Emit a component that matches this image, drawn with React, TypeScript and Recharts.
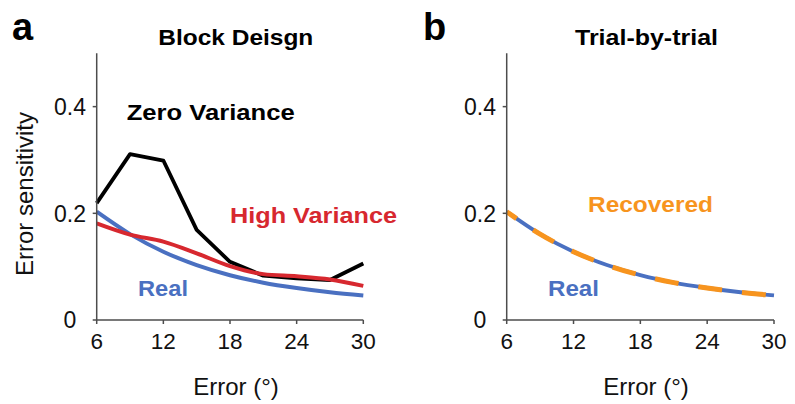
import React from "react";
import { LineChart, Line, XAxis, YAxis } from "recharts";

// Error magnitude (degrees) at which sensitivity was evaluated
const errors = [6, 9, 12, 15, 18, 21, 24, 27, 30];

// Block design: sensitivity per environment
const zeroVariance = [0.219, 0.311, 0.299, 0.169, 0.109, 0.083, 0.078, 0.075, 0.106];
const highVariance = [0.181, 0.16, 0.147, 0.125, 0.101, 0.086, 0.082, 0.076, 0.064];
const realSensitivity = [0.203, 0.161, 0.128, 0.103, 0.084, 0.07, 0.06, 0.052, 0.046];

// Trial-by-trial: true vs recovered sensitivity
const recoveredSensitivity = [0.203, 0.161, 0.128, 0.103, 0.084, 0.07, 0.06, 0.052, 0.046];

const xTicks = [6, 12, 18, 24, 30];
const yTicks = [0, 0.2, 0.4];

const FONT = "'Liberation Sans', Arial, Helvetica, sans-serif";
const AXIS = "#4d4d4d";
const BLACK = "#000000";
const RED = "#d7282f";
const BLUE = "#4a70c1";
const ORANGE = "#f7941e";

const blockData = errors.map((e, i) => ({
  error: e,
  zero: zeroVariance[i],
  high: highVariance[i],
  real: realSensitivity[i],
}));

const trialData = errors.map((e, i) => ({
  error: e,
  real: realSensitivity[i],
  recovered: recoveredSensitivity[i],
}));

const fmtY = (v: number) => (v === 0 ? "0" : v.toFixed(1));

const XTick = (props: any) => {
  const { x, y, payload } = props;
  return (
    <text x={x} y={y + 23} textAnchor="middle" fontFamily={FONT} fontSize={22.5} fill="#111">
      {payload.value}
    </text>
  );
};

const YTick = (props: any) => {
  const { x, y, payload } = props;
  return (
    <text
      x={x - 20.7}
      y={y}
      dy="0.36em"
      textAnchor="middle"
      fontFamily={FONT}
      fontSize={23}
      fill="#111"
    >
      {fmtY(payload.value)}
    </text>
  );
};

const axisCommon = {
  stroke: AXIS,
  strokeWidth: 1.5,
};

function Panel({
  left,
  yWidth,
  right,
  data,
  children,
}: {
  left: number;
  yWidth: number;
  right: number;
  data: any[];
  children: React.ReactNode;
}) {
  return (
    <div style={{ position: "absolute", left, top: 0 }}>
      <LineChart
        width={400}
        height={404}
        data={data}
        margin={{ top: 53.3, right, bottom: 0, left: 0 }}
      >
        <XAxis
          dataKey="error"
          type="number"
          domain={[6, 30]}
          ticks={xTicks}
          height={84}
          tickSize={4}
          tickMargin={2}
          axisLine={axisCommon}
          tickLine={axisCommon}
          tick={<XTick />}
          interval={0}
        />
        <YAxis
          type="number"
          domain={[0, 0.5]}
          ticks={yTicks}
          width={yWidth}
          tickSize={4}
          tickMargin={2}
          axisLine={axisCommon}
          tickLine={axisCommon}
          tick={<YTick />}
          interval={0}
        />
        {children}
      </LineChart>
    </div>
  );
}

export default function App() {
  return (
    <div
      style={{
        position: "absolute",
        left: 0,
        top: 0,
        width: 795,
        height: 404,
        background: "#fff",
        overflow: "hidden",
      }}
    >
      <Panel left={0} yWidth={96.7} right={36.7} data={blockData}>
        <Line
          dataKey="zero"
          type="linear"
          stroke={BLACK}
          strokeWidth={3.8}
          dot={false}
          strokeLinejoin="round"
          isAnimationActive={false}
        />
        <Line
          dataKey="real"
          type="monotone"
          stroke={BLUE}
          strokeWidth={4}
          dot={false}
          isAnimationActive={false}
        />
        <Line
          dataKey="high"
          type="monotone"
          stroke={RED}
          strokeWidth={4}
          dot={false}
          isAnimationActive={false}
        />
      </Panel>

      <Panel left={400} yWidth={106.7} right={26} data={trialData}>
        <Line
          dataKey="real"
          type="monotone"
          stroke={BLUE}
          strokeWidth={3.8}
          dot={false}
          isAnimationActive={false}
        />
        <Line
          dataKey="recovered"
          type="monotone"
          stroke={ORANGE}
          strokeWidth={5}
          strokeDasharray="24 20"
          strokeDashoffset={12}
          dot={false}
          isAnimationActive={false}
        />
      </Panel>

      <svg
        width={795}
        height={404}
        style={{ position: "absolute", left: 0, top: 0, pointerEvents: "none" }}
        fontFamily={FONT}
      >
        {/* panel letters */}
        <text x={12} y={40} fontSize={38} fontWeight="bold" fill="#000">a</text>
        <text x={423} y={40} fontSize={38} fontWeight="bold" fill="#000">b</text>

        {/* titles */}
        <text x={158.3} y={45} fontSize={21.5} fontWeight="bold" fill="#000" textLength={155} lengthAdjust="spacingAndGlyphs">
          Block Deisgn
        </text>
        <text x={575} y={45} fontSize={21.5} fontWeight="bold" fill="#000" textLength={143} lengthAdjust="spacingAndGlyphs">
          Trial-by-trial
        </text>

        {/* series annotations, panel a */}
        <text x={126.7} y={120} fontSize={22.5} fontWeight="bold" fill={BLACK} textLength={168} lengthAdjust="spacingAndGlyphs">
          Zero Variance
        </text>
        <text x={230} y={222.5} fontSize={22.5} fontWeight="bold" fill={RED} textLength={167} lengthAdjust="spacingAndGlyphs">
          High Variance
        </text>
        <text x={138} y={296} fontSize={22.5} fontWeight="bold" fill={BLUE} textLength={50} lengthAdjust="spacingAndGlyphs">
          Real
        </text>

        {/* series annotations, panel b */}
        <text x={588} y={211.5} fontSize={21.5} fontWeight="bold" fill={ORANGE} textLength={125} lengthAdjust="spacingAndGlyphs">
          Recovered
        </text>
        <text x={548} y={296} fontSize={22.5} fontWeight="bold" fill={BLUE} textLength={51} lengthAdjust="spacingAndGlyphs">
          Real
        </text>

        {/* axis titles */}
        <text x={236} y={395} fontSize={24} textAnchor="middle" fill="#111">Error (°)</text>
        <text x={646} y={395} fontSize={24} textAnchor="middle" fill="#111">Error (°)</text>
        <text
          x={0}
          y={0}
          fontSize={24}
          textAnchor="middle"
          fill="#111"
          transform="translate(33 194) rotate(-90)"
        >
          Error sensitivity
        </text>
      </svg>
    </div>
  );
}
